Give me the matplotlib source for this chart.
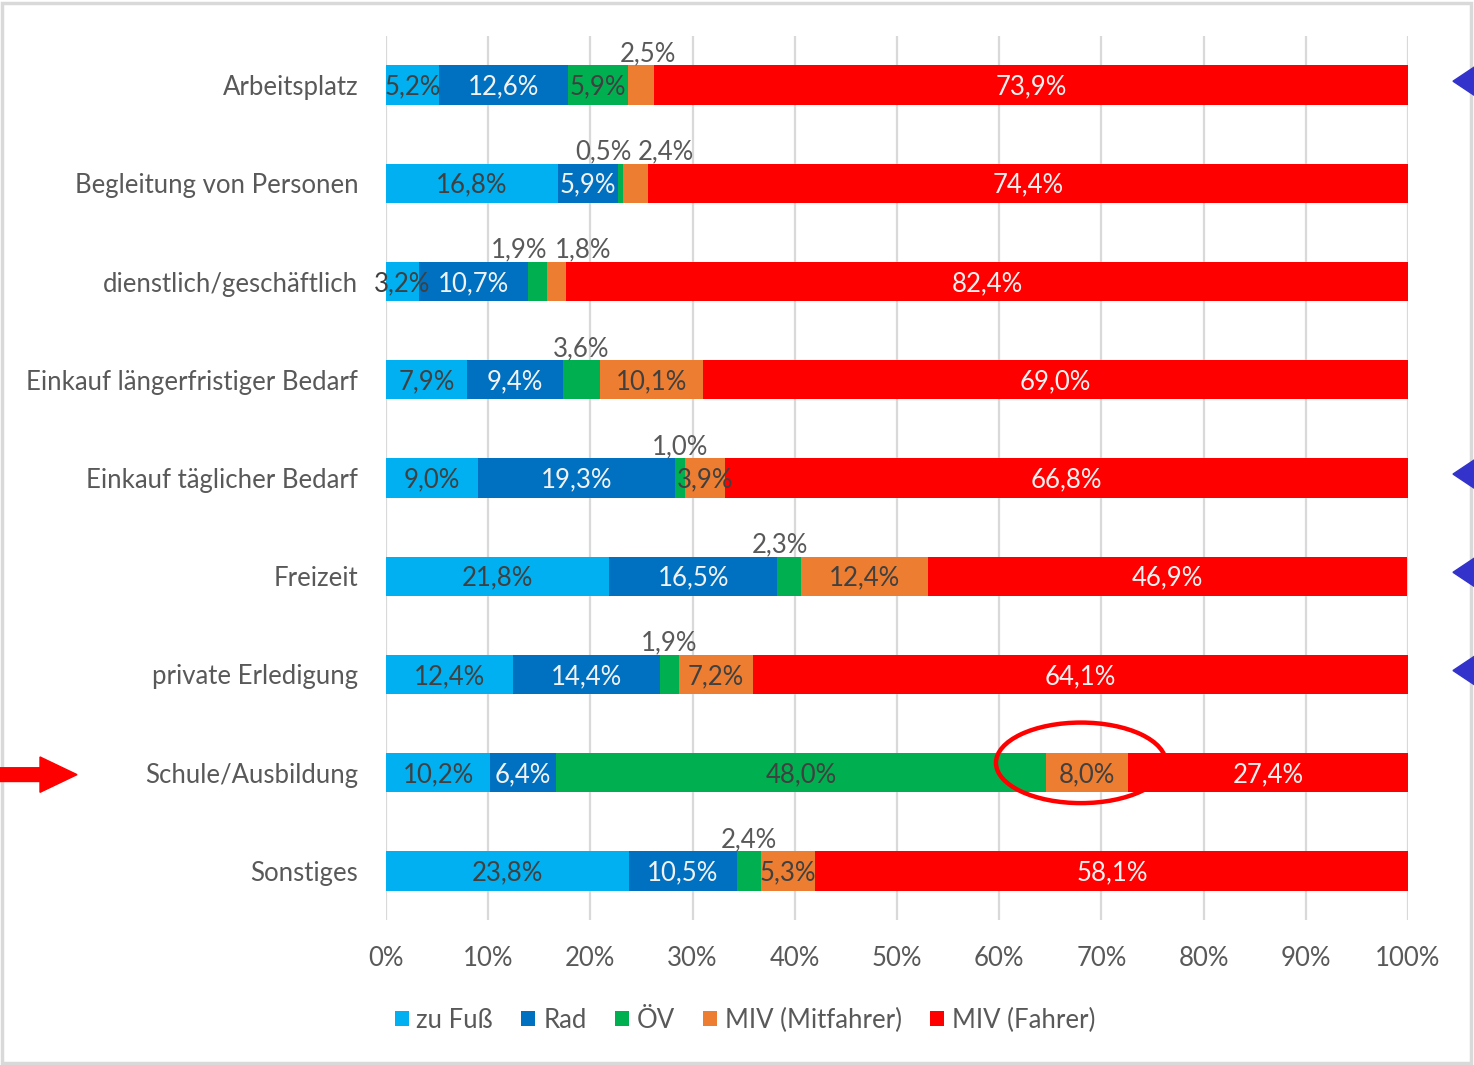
import matplotlib.pyplot as plt
from matplotlib.patches import Ellipse, Polygon, Rectangle
import numpy as np

plt.rcParams['font.family'] = ['Lato', 'DejaVu Sans']

# Data
categories = ["Arbeitsplatz", "Begleitung von Personen", "dienstlich/geschäftlich",
              "Einkauf längerfristiger Bedarf", "Einkauf täglicher Bedarf", "Freizeit",
              "private Erledigung", "Schule/Ausbildung", "Sonstiges"]
series = ["zu Fuß", "Rad", "ÖV", "MIV (Mitfahrer)", "MIV (Fahrer)"]
zu_fuss = [5.2, 16.8, 3.2, 7.9, 9.0, 21.8, 12.4, 10.2, 23.8]
rad = [12.6, 5.9, 10.7, 9.4, 19.3, 16.5, 14.4, 6.4, 10.5]
oev = [5.9, 0.5, 1.9, 3.6, 1.0, 2.3, 1.9, 48.0, 2.4]
miv_mit = [2.5, 2.4, 1.8, 10.1, 3.9, 12.4, 7.2, 8.0, 5.3]
miv_fahr = [73.9, 74.4, 82.4, 69.0, 66.8, 46.9, 64.1, 27.4, 58.1]
x_ticks = [0, 10, 20, 30, 40, 50, 60, 70, 80, 90, 100]
marked_rows = [0, 4, 5, 6]       # blue triangles on the right
highlight_row = 7                # red arrow + ellipse

values = [zu_fuss, rad, oev, miv_mit, miv_fahr]
colors = ["#00B0F0", "#0070C0", "#00B050", "#ED7D31", "#FF0000"]
text_colors = ["#404040", "#F2F2F2", "#404040", "#404040", "#F2F2F2"]
outside_limit = [3.0, 3.0, 5.0, 3.0, 3.0]
# small horizontal nudges for labels placed above the bar (row, series) -> % units
nudge = {(0, 3): 0.7, (1, 2): -1.7, (1, 3): 3.0, (2, 2): -1.8, (2, 3): 2.6, (5, 2): -0.9}
FS = 18.5

fig = plt.figure(figsize=(14.74, 10.65), dpi=100)
ax = fig.add_axes([386 / 1474, 1 - 920 / 1065, (1408 - 386) / 1474, (920 - 36) / 1065])

y = np.arange(len(categories))
left = np.zeros(len(categories))
for s, (vals, col) in enumerate(zip(values, colors)):
    vals = np.array(vals)
    ax.barh(y, vals, left=left, height=0.4, color=col, label=series[s], zorder=2)
    for i, v in enumerate(vals):
        cx = left[i] + v / 2
        txt = f"{v:.1f}%".replace(".", ",")
        if v < outside_limit[s]:
            ax.text(cx + nudge.get((i, s), 0), i - 0.32, txt, ha="center", va="center",
                    fontsize=FS, color="#595959", zorder=3)
        else:
            ax.text(cx, i + 0.02, txt, ha="center", va="center",
                    fontsize=FS, color=text_colors[s], zorder=3)
    left += vals

ax.set_xlim(0, 100)
ax.set_ylim(len(categories) - 0.5, -0.5)
ax.set_xticks(x_ticks)
ax.set_xticklabels([f"{t}%" for t in x_ticks])
ax.set_yticks(y)
ax.set_yticklabels(categories)
ax.tick_params(axis="both", length=0, labelsize=FS, labelcolor="#595959")
ax.tick_params(axis="y", pad=20)
ax.tick_params(axis="x", pad=19)
ax.grid(axis="x", color="#D9D9D9", linewidth=1.6, zorder=0)
ax.set_axisbelow(True)
for sp in ax.spines.values():
    sp.set_visible(False)

# frame around the whole picture
fig.patches.append(Rectangle((2 / 1474, 2 / 1065), 1469 / 1474, 1060 / 1065,
                             transform=fig.transFigure, fill=False,
                             edgecolor="#D9D9D9", linewidth=2.5, zorder=-1))

# annotations
px = 100 / 1022  # % per pixel
ov_starts = np.array(zu_fuss) + np.array(rad) + np.array(oev)
ecx = ov_starts[highlight_row] + miv_mit[highlight_row] / 2 - 0.6
ax.add_patch(Ellipse((ecx, highlight_row - 0.1), 170 * px, 0.82,
                     fill=False, edgecolor="#FF0000", linewidth=3.2, zorder=4, clip_on=False))

r = highlight_row + 0.02
arrow = [(-390 * px, r - 0.07), (-346 * px, r - 0.07), (-346 * px, r - 0.18),
         (-309 * px, r), (-346 * px, r + 0.18), (-346 * px, r + 0.07), (-390 * px, r + 0.07)]
ax.add_patch(Polygon(arrow, closed=True, color="#FF0000", clip_on=False, zorder=4))

for row in marked_rows:
    ry = row - 0.04
    tri = [(1067 * px, ry), (1095 * px, ry - 0.19), (1095 * px, ry + 0.19)]
    ax.add_patch(Polygon(tri, closed=True, color="#3333CC", clip_on=False, zorder=4))

fig.legend(loc="center", bbox_to_anchor=(745 / 1474, 1 - 1020 / 1065), ncol=5,
           frameon=False, fontsize=FS, handlelength=0.55, handleheight=0.55,
           handletextpad=0.3, columnspacing=1.1, labelcolor="#595959")

fig.savefig("out.png", dpi=100)
